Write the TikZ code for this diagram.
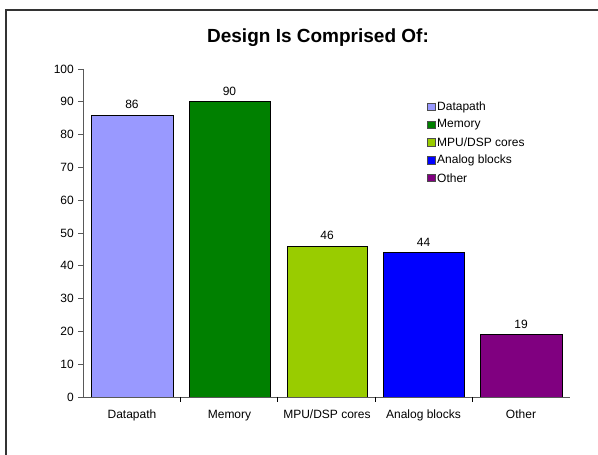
\documentclass[tikz,border=0pt]{standalone}
\usepackage{fontspec}
\setmainfont{Liberation Sans}
\usetikzlibrary{positioning}
\definecolor{datapath}{HTML}{9999FF}
\definecolor{memory}{HTML}{008000}
\definecolor{mpudsp}{HTML}{99CC00}
\definecolor{analog}{HTML}{0000FF}
\definecolor{other}{HTML}{800080}
\begin{document}
\begin{tikzpicture}[x=1pt,y=1pt,
    lbl/.style={font=\fontsize{12}{14}\selectfont, inner sep=1pt},
    bar/.style={draw=black, line width=.7pt},
    legkey/.style={draw=black!70, line width=.5pt, minimum size=7.5pt, inner sep=0pt}]
\useasboundingbox (0,0) rectangle (598,455);
\draw[line width=2.5pt, black!80] (6,0)--(6,445)--(598,445);
\node[font=\bfseries\fontsize{19}{22}\selectfont] (title) at (318,417) {Design Is Comprised Of:};
\begin{scope}[shift={(83,58)}, y=3.28pt]
% bars
\draw[bar, fill=datapath](8,0) rectangle (90,86);
\draw[bar, fill=memory](106,0) rectangle (187,90);
\draw[bar, fill=mpudsp](204,0) rectangle (284,46);
\draw[bar, fill=analog](300,0) rectangle (381,44);
\draw[bar, fill=other](397,0) rectangle (479,19);
\node[lbl, above=5pt] (v1) at (49,86) {86};
\node[lbl, above=5pt] (v2) at (146.5,90) {90};
\node[lbl, above=5pt] (v3) at (244,46) {46};
\node[lbl, above=5pt] (v4) at (340.5,44) {44};
\node[lbl, above=5pt] (v5) at (438,19) {19};
% axes
\draw[gray!70!black, line width=.8pt](0,100)--(0,0)--(487,0);
\foreach \v in {0,10,...,100}{
  \draw[gray!70!black, line width=.8pt](-5,\v)--(0,\v);
  \node[lbl, anchor=east] (t\v) at (-8,\v) {\v};
}
\foreach \x in {97.4,194.8,292.2,389.6}
  \draw[black, line width=.8pt](\x,0)--(\x,-1.5);
\node[lbl, anchor=base] (c1) at (49,-6.7) {Datapath};
\node[lbl, anchor=base] (c2) at (146.5,-6.7) {Memory};
\node[lbl, anchor=base] (c3) at (244,-6.7) {MPU/DSP cores};
\node[lbl, anchor=base] (c4) at (340.5,-6.7) {Analog blocks};
\node[lbl, anchor=base] (c5) at (438,-6.7) {Other};
\end{scope}
% legend
\node[legkey, fill=datapath] (k1) at (431,348) {};
\node[legkey, fill=memory] (k2) at (431,330.3) {};
\node[legkey, fill=mpudsp] (k3) at (431,312.6) {};
\node[legkey, fill=analog] (k4) at (431,294.9) {};
\node[legkey, fill=other] (k5) at (431,277.2) {};
\node[lbl, right=1pt of k1] (l1) {Datapath};
\node[lbl, right=1pt of k2] (l2) {Memory};
\node[lbl, right=1pt of k3] (l3) {MPU/DSP cores};
\node[lbl, right=1pt of k4] (l4) {Analog blocks};
\node[lbl, right=1pt of k5] (l5) {Other};
\end{tikzpicture}
\end{document}
